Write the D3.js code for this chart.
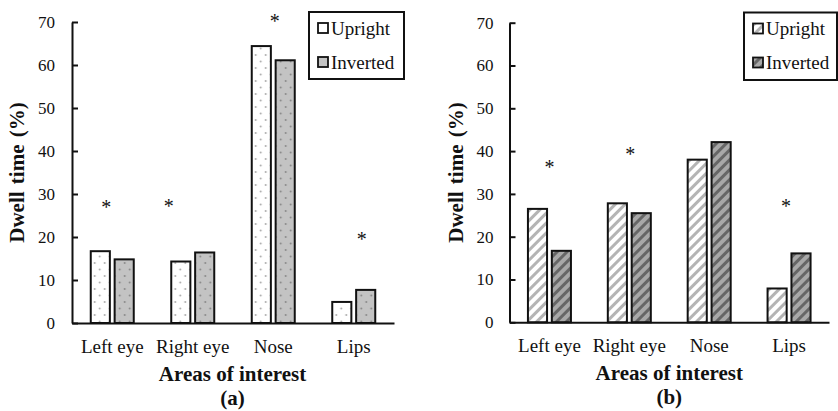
<!DOCTYPE html>
<html>
<head>
<meta charset="utf-8">
<script src="https://cdn.jsdelivr.net/npm/d3@7/dist/d3.min.js"></script>
<style>
  html, body { margin: 0; padding: 0; background: #fff; }
  svg { display: block; }
  text { font-family: "Liberation Serif", "Times New Roman", serif; fill: #111; }
</style>
</head>
<body>
<script>
// values
const categories = ['Left eye', 'Right eye', 'Nose', 'Lips'];
const seriesNames = ['Upright', 'Inverted'];
const yTicks = [0, 10, 20, 30, 40, 50, 60, 70];

const uprightA = [16.7, 14.3, 64.4, 4.9];
const invertedA = [14.8, 16.4, 61.1, 7.7];
const starsA = [27.7, 28.0, 71.0, 20.2];

const uprightB = [26.5, 27.8, 38.0, 7.9];
const invertedB = [16.7, 25.5, 42.1, 16.1];
const starsB = [36.9, 40.1, null, 27.8];

const svg = d3.select('body')
	.append('svg')
	.attr('width', 838)
	.attr('height', 411);

const defs = svg.append('defs');

// dotted fills for panel (a)
function dotPattern(id, bg, dot) {
	const p = defs.append('pattern')
		.attr('id', id)
		.attr('patternUnits', 'userSpaceOnUse')
		.attr('width', 10)
		.attr('height', 13);
	p.append('rect').attr('width', 10).attr('height', 13).attr('fill', bg);
	p.append('circle').attr('cx', 2.5).attr('cy', 3).attr('r', 0.9).attr('fill', dot);
	p.append('circle').attr('cx', 7.5).attr('cy', 9.5).attr('r', 0.9).attr('fill', dot);
}
// hatched fills for panel (b)
function stripePattern(id, bg, line) {
	const p = defs.append('pattern')
		.attr('id', id)
		.attr('patternUnits', 'userSpaceOnUse')
		.attr('width', 7)
		.attr('height', 7)
		.attr('patternTransform', 'rotate(45)');
	p.append('rect').attr('width', 7).attr('height', 7).attr('fill', bg);
	p.append('rect').attr('x', 0).attr('width', 3).attr('height', 7).attr('fill', line);
}
dotPattern('dotsWhite', '#ffffff', '#a0a0a0');
dotPattern('dotsGray', '#c3c3c3', '#808080');
stripePattern('hatchWhite', '#ffffff', '#b4b4b4');
stripePattern('hatchGray', '#a8a8a8', '#666666');

function drawPanel(cfg) {
	const g = svg.append('g');

	const x = d3.scaleBand()
		.domain(categories)
		.range([cfg.left, cfg.right])
		.padding(0);

	const xInner = d3.scaleBand()
		.domain(seriesNames)
		.range([-21.5, 21.5])
		.paddingInner(0.2);

	const y = d3.scaleLinear()
		.domain([0, 70])
		.range([cfg.bottom, cfg.top]);

	const rows = categories.map((c, i) => ({
		cat: c,
		values: [
			{ name: 'Upright', value: cfg.upright[i] },
			{ name: 'Inverted', value: cfg.inverted[i] }
		]
	}));

	// bars
	g.selectAll('.group')
		.data(rows)
		.enter()
		.append('g')
		.attr('transform', d => `translate(${x(d.cat) + x.bandwidth() / 2},0)`)
		.selectAll('rect')
		.data(d => d.values)
		.enter()
		.append('rect')
		.attr('x', d => xInner(d.name))
		.attr('width', xInner.bandwidth())
		.attr('y', d => y(d.value))
		.attr('height', d => y(0) - y(d.value))
		.attr('fill', d => `url(#${cfg.fills[d.name]})`)
		.attr('stroke', '#111')
		.attr('stroke-width', 2);

	// y axis, ticks point inwards
	const yAxis = g.append('g')
		.attr('transform', `translate(${cfg.left},0)`)
		.call(d3.axisLeft(y).tickValues(yTicks).tickSizeInner(-6).tickSizeOuter(0).tickPadding(cfg.tickPad));
	yAxis.select('.domain').attr('stroke', '#111').attr('stroke-width', 2);
	yAxis.selectAll('.tick line').attr('stroke', '#111').attr('stroke-width', 2);
	yAxis.selectAll('.tick text')
		.style('font-family', '"Liberation Serif", serif')
		.style('font-size', '17px')
		.attr('fill', '#333');

	// x axis
	const xAxis = g.append('g')
		.attr('transform', `translate(0,${cfg.bottom})`)
		.call(d3.axisBottom(x).tickSize(0).tickPadding(16.5));
	xAxis.select('.domain').attr('stroke', '#111').attr('stroke-width', 2);
	xAxis.selectAll('.tick text')
		.style('font-family', '"Liberation Serif", serif')
		.style('font-size', '19px')
		.attr('fill', '#1a1a1a');

	// significance marks
	g.selectAll('.star')
		.data(cfg.stars.map((v, i) => ({ cat: categories[i], value: v, dx: cfg.starDx[i] })).filter(d => d.value !== null))
		.enter()
		.append('text')
		.attr('x', d => x(d.cat) + x.bandwidth() / 2 + d.dx)
		.attr('y', d => y(d.value) + 10)
		.attr('text-anchor', 'middle')
		.style('font-size', '20px')
		.text('*');

	// axis titles
	g.append('text')
		.attr('x', (cfg.left + cfg.right) / 2 + cfg.titleDx)
		.attr('y', cfg.bottom + 58)
		.attr('text-anchor', 'middle')
		.style('font-size', '21px')
		.style('font-weight', 'bold')
		.text('Areas of interest');

	g.append('text')
		.attr('x', (cfg.left + cfg.right) / 2 + cfg.titleDx)
		.attr('y', cfg.bottom + 82)
		.attr('text-anchor', 'middle')
		.style('font-size', '21px')
		.style('font-weight', 'bold')
		.text(cfg.caption);

	g.append('text')
		.attr('transform', `translate(${cfg.yTitleX},${(cfg.top + cfg.bottom) / 2}) rotate(-90)`)
		.attr('text-anchor', 'middle')
		.style('font-size', '21px')
		.style('font-weight', 'bold')
		.style('word-spacing', '2px')
		.text('Dwell time (%)');

	// legend
	const lg = g.append('g').attr('transform', `translate(${cfg.legend.x},${cfg.legend.y})`);
	lg.append('rect')
		.attr('width', cfg.legend.w)
		.attr('height', cfg.legend.h)
		.attr('fill', '#fff')
		.attr('stroke', '#111')
		.attr('stroke-width', 2);
	seriesNames.forEach((name, i) => {
		lg.append('rect')
			.attr('x', 9)
			.attr('y', 11 + i * 34)
			.attr('width', 10)
			.attr('height', 10)
			.attr('fill', cfg.legendFills[name])
			.attr('stroke', '#111')
			.attr('stroke-width', 1.8);
		lg.append('text')
			.attr('x', 22)
			.attr('y', 22.5 + i * 34)
			.style('font-size', '19px')
			.text(name);
	});
}

drawPanel({
	left: 72, right: 394, bottom: 323, top: 22,
	upright: uprightA, inverted: invertedA, stars: starsA,
	starDx: [-6, -24, 1.5, 8],
	fills: { Upright: 'dotsWhite', Inverted: 'dotsGray' },
	legendFills: { Upright: '#ffffff', Inverted: '#c3c3c3' },
	tickPad: 17,
	titleDx: -0.5,
	yTitleX: 24,
	caption: '(a)',
	legend: { x: 309, y: 12, w: 95, h: 67 }
});

drawPanel({
	left: 509.5, right: 829, bottom: 322.3, top: 22.7,
	upright: uprightB, inverted: invertedB, stars: starsB,
	starDx: [0, 1, 0, -3],
	fills: { Upright: 'hatchWhite', Inverted: 'hatchGray' },
	legendFills: { Upright: 'url(#hatchWhite)', Inverted: 'url(#hatchGray)' },
	tickPad: 16,
	titleDx: 0,
	yTitleX: 463,
	caption: '(b)',
	legend: { x: 744, y: 12.5, w: 93, h: 67.5 }
});
</script>
</body>
</html>
